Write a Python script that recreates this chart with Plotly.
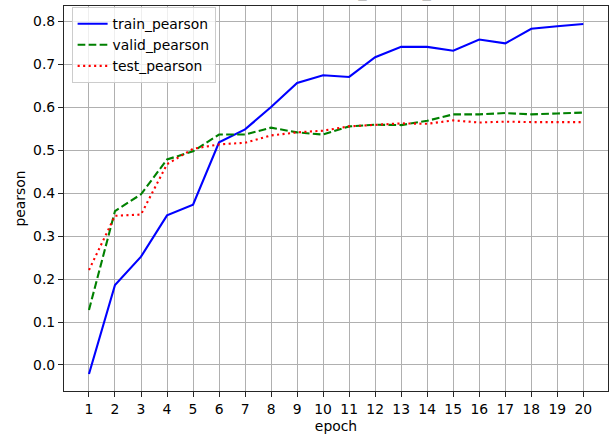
import plotly.graph_objects as go

# Per-epoch Pearson correlation for each split
epochs = list(range(1, 21))
train_pearson = [-0.021, 0.186, 0.252, 0.348, 0.373, 0.518, 0.548, 0.600, 0.656, 0.674,
                 0.670, 0.716, 0.740, 0.740, 0.731, 0.757, 0.748, 0.782, 0.788, 0.793]
valid_pearson = [0.128, 0.358, 0.397, 0.478, 0.497, 0.536, 0.536, 0.552, 0.541, 0.536,
                 0.555, 0.559, 0.558, 0.568, 0.583, 0.583, 0.586, 0.583, 0.585, 0.587]
test_pearson = [0.221, 0.347, 0.350, 0.467, 0.503, 0.513, 0.517, 0.534, 0.541, 0.545,
                0.555, 0.559, 0.562, 0.561, 0.569, 0.564, 0.566, 0.565, 0.565, 0.565]
y_ticks = [0.0, 0.1, 0.2, 0.3, 0.4, 0.5, 0.6, 0.7, 0.8]

FONT = "DejaVu Sans"

fig = go.Figure()
fig.add_trace(go.Scatter(x=epochs, y=train_pearson, mode="lines", name="train_pearson",
                         line=dict(color="#0000ff", width=2.1)))
fig.add_trace(go.Scatter(x=epochs, y=valid_pearson, mode="lines", name="valid_pearson",
                         line=dict(color="#008000", width=2.1, dash="7.7px,3.3px")))
fig.add_trace(go.Scatter(x=epochs, y=test_pearson, mode="lines", name="test_pearson",
                         line=dict(color="#ff0000", width=2.1, dash="2.1px,3.4px")))

axis_common = dict(
    showgrid=True, gridcolor="#b0b0b0", gridwidth=1.1,
    showline=True, linecolor="#262626", linewidth=1.1, mirror=True,
    ticks="outside", ticklen=5, tickwidth=1.1, tickcolor="#262626",
    tickfont=dict(family=FONT, size=13.9, color="#000000"),
    zeroline=False,
)

fig.update_xaxes(
    range=[0.04, 20.95], tickmode="array", tickvals=epochs,
    title=dict(text="epoch", font=dict(family=FONT, size=13.9, color="#000000"), standoff=5),
    **axis_common,
)
fig.update_yaxes(
    range=[-0.0605, 0.835], tickmode="array", tickvals=y_ticks,
    ticktext=[f"{v:.1f}" for v in y_ticks],
    title=dict(text="pearson", font=dict(family=FONT, size=13.9, color="#000000"), standoff=4),
    **axis_common,
)

# Title sits above the figure area; only its lower edge shows
fig.add_annotation(
    text="finetune_results_metric", xref="paper", yref="paper",
    x=(287 - 64.3) / 543.7, y=1, xanchor="left", yanchor="bottom", yshift=3,
    showarrow=False, font=dict(family=FONT, size=16.7, color="#000000"),
)

fig.update_layout(
    width=611, height=441,
    margin=dict(l=64, r=3, t=6, b=50),
    paper_bgcolor="white", plot_bgcolor="white",
    font=dict(family=FONT, size=13.9, color="#000000"),
    showlegend=True,
    legend=dict(
        x=0.014, y=0.997, xanchor="left", yanchor="top",
        bgcolor="rgba(255,255,255,0.8)", bordercolor="#cccccc", borderwidth=1,
        font=dict(family=FONT, size=13.9, color="#000000"),
        itemwidth=30, tracegroupgap=0,
    ),
)

fig.write_html("out.html")
